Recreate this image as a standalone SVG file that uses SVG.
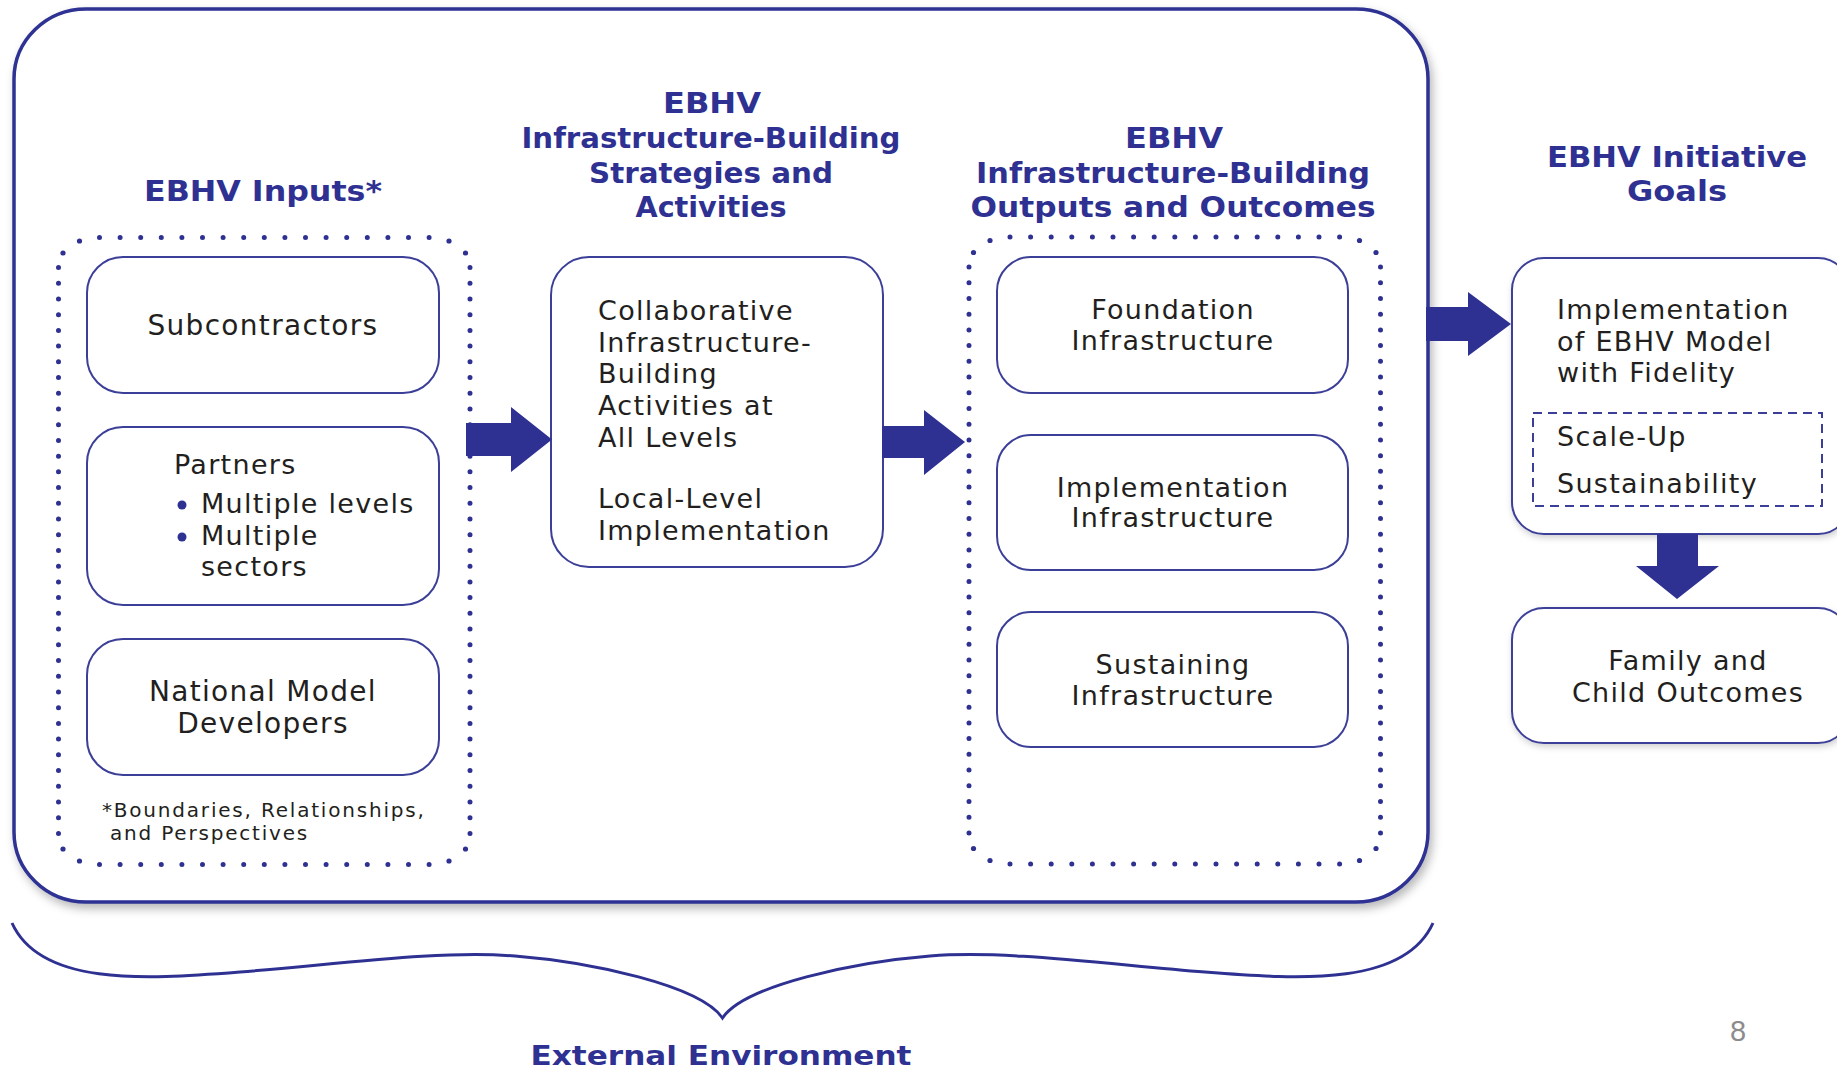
<svg xmlns="http://www.w3.org/2000/svg" xmlns:xlink="http://www.w3.org/1999/xlink" width="1837" height="1070" viewBox="0 0 1837 1070">
<style>
.frame{fill:#fff;stroke:#2e3192;stroke-width:3.5}
.box{fill:#fff;stroke:#3c3f98;stroke-width:2}
.dash{fill:none;stroke:#3c3f98;stroke-width:2;stroke-dasharray:9 6}
.dot{fill:none;stroke:#2e3192;stroke-width:5;stroke-linecap:round}
.dh{stroke-dasharray:0 20.6}
.dv{stroke-dasharray:0 15.72}
.cd{fill:#2e3192}
.arrow{fill:#2e3192}
.h{font-family:"DejaVu Sans","Liberation Sans",sans-serif;font-weight:bold;font-size:28px;fill:#2e3192;text-anchor:middle}
.t{font-family:"DejaVu Sans","Liberation Sans",sans-serif;font-size:27px;fill:#231f20;letter-spacing:1.3px}
.tl{font-size:28px}
.tc{text-anchor:middle}
.fn{font-family:"DejaVu Sans","Liberation Sans",sans-serif;font-size:20px;fill:#231f20;letter-spacing:1.8px}
.brace{fill:none;stroke:#2e3192;stroke-width:3}
.pg{font-family:"Liberation Sans",sans-serif;font-size:29px;fill:#8c8c8c;text-anchor:middle}
</style>
<defs>
<filter id="shadow" x="-5%" y="-5%" width="110%" height="115%">
<feDropShadow dx="3" dy="5" stdDeviation="5" flood-color="#000" flood-opacity="0.28"/>
</filter>
<filter id="shadow2" x="-5%" y="-10%" width="110%" height="130%">
<feDropShadow dx="1" dy="3" stdDeviation="3" flood-color="#000" flood-opacity="0.18"/>
</filter>
<g id="dotframe">
<path class="dot dh" d="M41,0 h330.5"/>
<path class="dot dh" d="M41,627 h330.5"/>
<path class="dot dv" d="M0,30 v566.5"/>
<path class="dot dv" d="M411.5,30 v566.5"/>
<circle class="cd" cx="21" cy="3.5" r="2.6"/>
<circle class="cd" cx="4.5" cy="15.5" r="2.6"/>
<circle class="cd" cx="390.5" cy="3.5" r="2.6"/>
<circle class="cd" cx="407" cy="15.5" r="2.6"/>
<circle class="cd" cx="21" cy="623.5" r="2.6"/>
<circle class="cd" cx="4.5" cy="611.5" r="2.6"/>
<circle class="cd" cx="390.5" cy="623.5" r="2.6"/>
<circle class="cd" cx="407" cy="611.5" r="2.6"/>
</g>
</defs>
<rect width="1837" height="1070" fill="#fff"/>

<g id="infrastructure-frame">
<rect class="frame" x="14" y="9" width="1414" height="893" rx="72" ry="70" filter="url(#shadow)"/>
</g>

<g id="inputs">
<text class="h" x="263" y="201" textLength="238" lengthAdjust="spacingAndGlyphs">EBHV Inputs*</text>
<use xlink:href="#dotframe" href="#dotframe" x="58.5" y="237.5"/>
<text class="fn" x="102" y="817">*Boundaries, Relationships,</text>
<text class="fn" x="110" y="840">and Perspectives</text>
</g>

<g id="subcontractors">
<rect class="box" x="87" y="257" width="352" height="136" rx="36"/>
<text class="t tl tc" x="263" y="335">Subcontractors</text>
</g>

<g id="partners">
<rect class="box" x="87" y="427" width="352" height="178" rx="36"/>
<text class="t" x="174" y="474">Partners</text>
<circle class="cd" cx="182" cy="505" r="4.5"/>
<circle class="cd" cx="182" cy="537" r="4.5"/>
<text class="t" x="201" y="513">Multiple levels</text>
<text class="t" x="201" y="545">Multiple</text>
<text class="t" x="201" y="576">sectors</text>
</g>

<g id="national-model-developers">
<rect class="box" x="87" y="639" width="352" height="136" rx="36"/>
<text class="t tl tc" x="263" y="701">National Model</text>
<text class="t tl tc" x="263" y="733">Developers</text>
</g>

<g id="strategies">
<text class="h" x="712" y="113" textLength="98" lengthAdjust="spacingAndGlyphs">EBHV</text>
<text class="h" x="711" y="148" textLength="379" lengthAdjust="spacingAndGlyphs">Infrastructure-Building</text>
<text class="h" x="711" y="183" textLength="244" lengthAdjust="spacingAndGlyphs">Strategies and</text>
<text class="h" x="711" y="217" textLength="151" lengthAdjust="spacingAndGlyphs">Activities</text>
<rect class="box" x="551" y="257" width="332" height="310" rx="38"/>
<text class="t" x="598" y="320">Collaborative</text>
<text class="t" x="598" y="352">Infrastructure-</text>
<text class="t" x="598" y="383">Building</text>
<text class="t" x="598" y="415">Activities at</text>
<text class="t" x="598" y="447">All Levels</text>
<text class="t" x="598" y="508">Local-Level</text>
<text class="t" x="598" y="540">Implementation</text>
</g>

<g id="outputs-outcomes">
<text class="h" x="1174" y="148" textLength="98" lengthAdjust="spacingAndGlyphs">EBHV</text>
<text class="h" x="1173" y="183" textLength="394" lengthAdjust="spacingAndGlyphs">Infrastructure-Building</text>
<text class="h" x="1173" y="217" textLength="405" lengthAdjust="spacingAndGlyphs">Outputs and Outcomes</text>
<use xlink:href="#dotframe" href="#dotframe" x="969" y="237"/>
</g>

<g id="foundation-infrastructure">
<rect class="box" x="997" y="257" width="351" height="136" rx="34"/>
<text class="t tc" x="1173" y="319">Foundation</text>
<text class="t tc" x="1173" y="350">Infrastructure</text>
</g>

<g id="implementation-infrastructure">
<rect class="box" x="997" y="435" width="351" height="135" rx="34"/>
<text class="t tc" x="1173" y="497">Implementation</text>
<text class="t tc" x="1173" y="527">Infrastructure</text>
</g>

<g id="sustaining-infrastructure">
<rect class="box" x="997" y="612" width="351" height="135" rx="34"/>
<text class="t tc" x="1173" y="674">Sustaining</text>
<text class="t tc" x="1173" y="705">Infrastructure</text>
</g>

<g id="initiative-goals">
<text class="h" x="1677" y="167" textLength="260" lengthAdjust="spacingAndGlyphs">EBHV Initiative</text>
<text class="h" x="1677" y="201" textLength="100" lengthAdjust="spacingAndGlyphs">Goals</text>
</g>

<g id="implementation-fidelity">
<rect class="box" x="1512" y="258" width="338" height="276" rx="32" filter="url(#shadow2)"/>
<text class="t" x="1557" y="319">Implementation</text>
<text class="t" x="1557" y="351">of EBHV Model</text>
<text class="t" x="1557" y="382">with Fidelity</text>
<rect class="dash" x="1533" y="413" width="289" height="93"/>
<text class="t" x="1557" y="446">Scale-Up</text>
<text class="t" x="1557" y="493">Sustainability</text>
</g>

<g id="family-child-outcomes">
<rect class="box" x="1512" y="608" width="338" height="135" rx="32" filter="url(#shadow2)"/>
<text class="t tc" x="1688" y="670">Family and</text>
<text class="t tc" x="1688" y="702">Child Outcomes</text>
</g>

<g id="connectors">
<polygon class="arrow" points="466,423 511,423 511,407 552,439.5 511,472 511,456 466,456"/>
<polygon class="arrow" points="882,426 924,426 924,410 965,442 924,475 924,458 882,458"/>
<polygon class="arrow" points="1426,307 1468,307 1468,292 1511,324 1468,356 1468,341 1426,341"/>
<polygon class="arrow" points="1657,534 1698,534 1698,566 1719,566 1677,599 1636,566 1657,566"/>
</g>

<g id="external-environment">
<path class="brace" d="M12,923 C40,985 140,980 240,972 C340,964 440,950 515,956 C590,962 700,985 722.5,1018 C745,985 855,962 930,956 C1005,950 1105,964 1205,972 C1305,980 1405,985 1433,923"/>
<text class="h" x="721" y="1065" textLength="381" lengthAdjust="spacingAndGlyphs" style="font-size:26px">External Environment</text>
</g>

<g id="page-number">
<text class="pg" x="1738" y="1041">8</text>
</g>
</svg>
